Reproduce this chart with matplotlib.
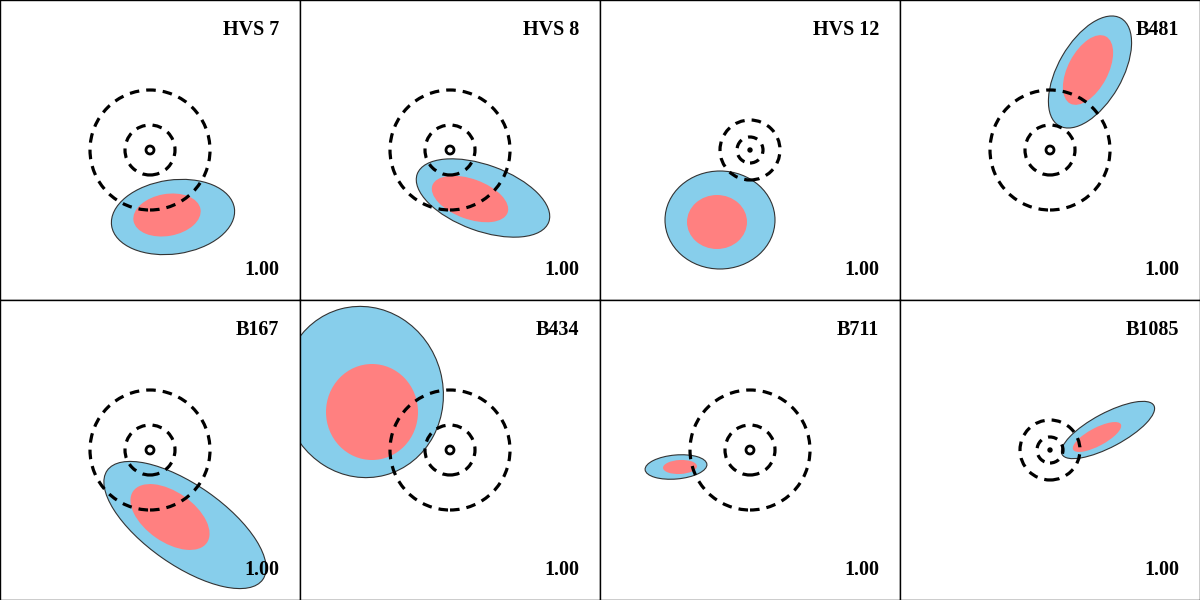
import matplotlib.pyplot as plt
from matplotlib.patches import Ellipse, Circle

names = ["HVS 7", "HVS 8", "HVS 12", "B481", "B167", "B434", "B711", "B1085"]
scores = ["1.00"] * 8

# reference circles (outer, inner, centre) radii
outer_r = [60, 60, 30, 60, 60, 60, 60, 30]
inner_r = [25, 25, 13, 25, 25, 25, 25, 13]
dot_r = [4, 4, 2, 4, 4, 4, 4, 2]
dot_filled = [False, False, True, False, False, False, False, True]

# outer (blue) confidence region: centre x, centre y, semi-axes, angle
blue_x = [23, 33, -30, 40, 35, -87, -74, 58]
blue_y = [-67, -48, -70, 78, -75, 58, -17, 20]
blue_a = [62, 70, 55, 62, 95, 80, 31, 52]
blue_b = [37, 33, 49, 32, 40, 86, 12, 17]
blue_ang = [8, -20, 0, 60, -35, 15, 5, 28]

# inner (red) region
red_x = [17, 20, -33, 38, 20, -78, -70, 47]
red_y = [-65, -49, -72, 80, -67, 38, -17, 13]
red_a = [34, 40, 30, 38, 45, 46, 17, 27]
red_b = [21, 20, 27, 20, 25, 48, 7, 9]
red_ang = [10, -20, 0, 62, -35, 0, 3, 28]

fig, axes = plt.subplots(2, 4, figsize=(12, 6), dpi=100)
fig.subplots_adjust(left=0, right=1, bottom=0, top=1, wspace=0, hspace=0)

for i, ax in enumerate(axes.flat):
    ax.set_xlim(-150, 150)
    ax.set_ylim(-150, 150)
    ax.set_aspect("equal")
    ax.set_xticks([])
    ax.set_yticks([])
    for s in ax.spines.values():
        s.set_linewidth(1.0)
        s.set_color("black")

    ax.add_patch(Ellipse((blue_x[i], blue_y[i]), 2 * blue_a[i], 2 * blue_b[i],
                         angle=blue_ang[i], facecolor="#87ceeb",
                         edgecolor="#333333", lw=0.8, zorder=1))
    ax.add_patch(Ellipse((red_x[i], red_y[i]), 2 * red_a[i], 2 * red_b[i],
                         angle=red_ang[i], facecolor="#ff8080",
                         edgecolor="none", zorder=2))

    for r in [outer_r[i], inner_r[i]]:
        ax.add_patch(Circle((0, 0), r, fill=False, ls=(0, (3, 2.2)),
                            lw=2.3, color="black", zorder=3))
    if dot_filled[i]:
        ax.add_patch(Circle((0, 0), dot_r[i], color="black", zorder=4))
    else:
        ax.add_patch(Circle((0, 0), dot_r[i], fill=False, lw=2.0,
                            color="black", zorder=4))

    ax.text(0.93, 0.9, names[i], transform=ax.transAxes, ha="right",
            va="center", fontsize=14.5, fontweight="bold",
            family="Liberation Serif")
    ax.text(0.93, 0.1, scores[i], transform=ax.transAxes, ha="right",
            va="center", fontsize=14.5, fontweight="bold",
            family="Liberation Serif")

fig.savefig("out.png", dpi=100)
